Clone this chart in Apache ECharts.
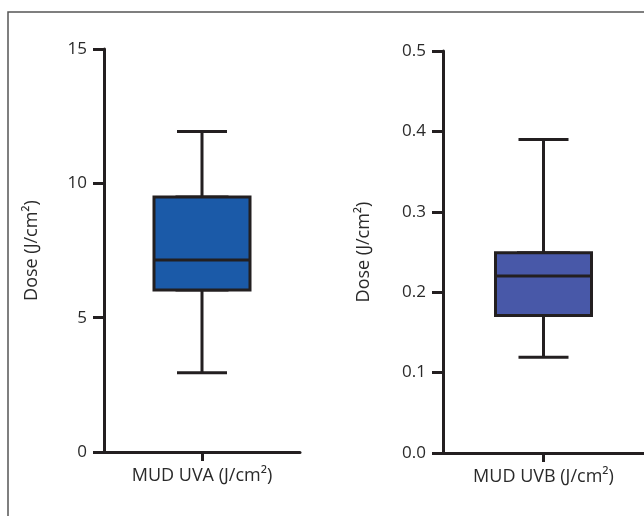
<!DOCTYPE html>
<html>
<head>
<meta charset="utf-8">
<script src="https://cdn.jsdelivr.net/npm/echarts@6/dist/echarts.min.js"></script>
<style>html,body{margin:0;padding:0;background:#fff;}#c{width:644px;height:516px;}</style>
</head>
<body>
<div id="c"></div>
<script>
// Data
const categoriesA = ['MUD UVA (J/cm²)'];
const categoriesB = ['MUD UVB (J/cm²)'];
// [min, Q1, median, Q3, max]
const uvaStats = [2.95, 6.03, 7.15, 9.49, 11.93];
const uvbStats = [0.119, 0.171, 0.220, 0.249, 0.390];
const uvaTicks = [0, 5, 10, 15];
const uvbTicks = [0.0, 0.1, 0.2, 0.3, 0.4, 0.5];
const yTitle = 'Dose (J/cm²)';

const chart = echarts.init(document.getElementById('c'), null, {renderer: 'canvas'});
const ink = '#231f20';
const font = '"Open Sans", "Noto Sans", sans-serif';

function xAxis(gridIndex, cats, visible) {
  return {
    type: 'category', gridIndex, data: cats, show: visible,
    axisLine: {show: true, lineStyle: {color: ink, width: 3}},
    axisTick: {show: true, alignWithLabel: true, length: 9, lineStyle: {color: ink, width: 3}},
    axisLabel: {show: true, color: '#2a2a2a', fontSize: 18, fontFamily: font, margin: 15},
    splitLine: {show: false}
  };
}
function yAxis(gridIndex, ticks, fmt, gap) {
  return {
    type: 'value', gridIndex,
    min: ticks[0], max: ticks[ticks.length - 1], interval: ticks[1] - ticks[0],
    name: yTitle, nameLocation: 'middle', nameRotate: 90, nameGap: gap,
    nameTextStyle: {color: '#2a2a2a', fontSize: 18, fontFamily: font},
    axisLine: {show: true, lineStyle: {color: ink, width: 3}},
    axisTick: {show: true, length: 11, lineStyle: {color: ink, width: 3}},
    axisLabel: {color: '#2a2a2a', fontSize: 17, fontFamily: font, margin: 17, formatter: fmt},
    splitLine: {show: false}
  };
}
function whisker(xi, yi, stats, color) {
  return {
    type: 'boxplot', xAxisIndex: xi, yAxisIndex: yi, boxWidth: [50, 50],
    itemStyle: {color: color, borderColor: ink, borderWidth: 3},
    silent: true, z: 2,
    data: [stats]
  };
}
function box(xi, yi, stats, color) {
  return {
    type: 'boxplot', xAxisIndex: xi, yAxisIndex: yi, boxWidth: [96, 96],
    itemStyle: {color: color, borderColor: ink, borderWidth: 3},
    silent: true, z: 3,
    data: [[stats[1], stats[1], stats[2], stats[3], stats[3]]]
  };
}

chart.setOption({
  backgroundColor: '#fff',
  animation: false,
  grid: [
    {left: 104, top: 49, width: 196, height: 403},
    {left: 443, top: 51, width: 201, height: 402}
  ],
  xAxis: [
    xAxis(0, categoriesA, true),
    xAxis(0, categoriesA, false),
    xAxis(1, categoriesB, true),
    xAxis(1, categoriesB, false)
  ],
  yAxis: [
    yAxis(0, uvaTicks, v => String(v), 63),
    yAxis(1, uvbTicks, v => v.toFixed(1), 70)
  ],
  series: [
    whisker(1, 0, uvaStats, '#1b5aa8'),
    box(0, 0, uvaStats, '#1b5aa8'),
    whisker(3, 1, uvbStats, '#4858a8'),
    box(2, 1, uvbStats, '#4858a8')
  ],
  graphic: [{
    type: 'polyline', silent: true,
    shape: {points: [[8, 516], [8, 12], [644, 12]]},
    style: {stroke: '#555', lineWidth: 1.5, fill: null}
  }]
});
</script>
</body>
</html>
